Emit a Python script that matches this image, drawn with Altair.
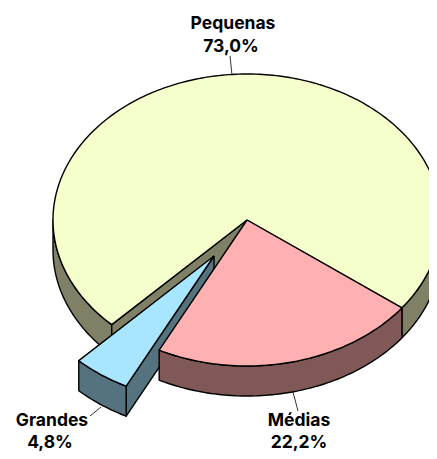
import math
import altair as alt
import pandas as pd

categories = ["Pequenas", "Médias", "Grandes"]
shares = [73.0, 22.2, 4.8]
share_labels = ["73,0%", "22,2%", "4,8%"]
top_colors = ["#F5FFCC", "#FFB0B0", "#A8E6FF"]
side_colors = ["#7F8066", "#805858", "#54737F"]

# layout of the tilted disc, in picture pixels
CX, CY, RX, RY, DEPTH = 247.0, 220.0, 194.0, 146.0, 30.0
OFFSET = (-33.0, 36.0)  # pull-out of the "Grandes" slice
START = 37.0            # Médias starts here, clockwise on screen

med_end = START + shares[1] * 3.6
gra_end = med_end + shares[2] * 3.6
peq_end = gra_end + shares[0] * 3.6


def pt(a, off=(0, 0), drop=0.0):
    r = math.radians(a)
    return (CX + RX * math.cos(r) + off[0], CY + RY * math.sin(r) + off[1] + drop)


def arc(a0, a1, off=(0, 0), drop=0.0):
    n = max(2, int(abs(a1 - a0)) + 1)
    return [pt(a0 + (a1 - a0) * i / (n - 1), off, drop) for i in range(n)]


def centre(off=(0, 0), drop=0.0):
    return (CX + off[0], CY + off[1] + drop)


polys = []
# Pequenas: outer wall (right and left visible parts), cut wall, top
polys.append((arc(0, START) + arc(START, 0, drop=DEPTH), side_colors[0]))
polys.append((arc(gra_end, 180) + arc(180, gra_end, drop=DEPTH), side_colors[0]))
polys.append(([centre(), pt(gra_end), pt(gra_end, drop=DEPTH), centre(drop=DEPTH)], side_colors[0]))
polys.append(([centre()] + arc(gra_end, peq_end) + [centre()], top_colors[0]))
# Grandes: cut wall sits behind Médias
polys.append(([centre(OFFSET), pt(med_end, OFFSET), pt(med_end, OFFSET, DEPTH), centre(OFFSET, DEPTH)], side_colors[2]))
# Médias: outer wall, top
polys.append((arc(START, med_end) + arc(med_end, START, drop=DEPTH), side_colors[1]))
polys.append(([centre()] + arc(START, med_end) + [centre()], top_colors[1]))
# Grandes: outer wall, top
polys.append((arc(med_end, gra_end, OFFSET) + arc(gra_end, med_end, OFFSET, DEPTH), side_colors[2]))
polys.append(([centre(OFFSET)] + arc(med_end, gra_end, OFFSET) + [centre(OFFSET)], top_colors[2]))

W, H = 421, 443
xs = alt.Scale(domain=[8, 8 + W], range=[0, W])
ys = alt.Scale(domain=[8, 8 + H], range=[0, H])
X = lambda f: alt.X(f, type="quantitative", scale=xs, axis=None)
Y = lambda f: alt.Y(f, type="quantitative", scale=ys, axis=None)

layers = []
# leader lines
leaders = pd.DataFrame({
    "x": [230, 293, 101], "y": [56, 392, 407],
    "x2": [232, 298, 90], "y2": [75, 411, 416],
})
layers.append(
    alt.Chart(leaders).mark_rule(color="#333333", strokeWidth=1).encode(
        x=X("x"), y=Y("y"), x2="x2:Q", y2="y2:Q")
)
for pts, col in polys:
    pts = list(pts) + [pts[0]]
    df = pd.DataFrame({"x": [p[0] for p in pts], "y": [p[1] for p in pts], "o": range(len(pts))})
    layers.append(
        alt.Chart(df).mark_line(fill=col, stroke="black", strokeWidth=1.4, strokeJoin="round", clip=True).encode(
            x=X("x"), y=Y("y"), order="o:Q")
    )

labels = pd.DataFrame({
    "t": [categories[0], share_labels[0], categories[1], share_labels[1], categories[2], share_labels[2]],
    "x": [233, 231, 299, 299, 52, 50],
    "y": [29, 52, 426, 448, 426, 448],
})
layers.append(
    alt.Chart(labels).mark_text(font="Inter", fontWeight="bold", fontSize=17.5, color="black",
                                align="center", baseline="alphabetic").encode(
        x=X("x"), y=Y("y"), text="t:N")
)

chart = alt.layer(*layers).properties(
    width=W, height=H, padding=0, autosize="none", background="white"
).configure_view(stroke=None)

chart.save("out.html", embed_options={"renderer": "svg", "actions": False})
